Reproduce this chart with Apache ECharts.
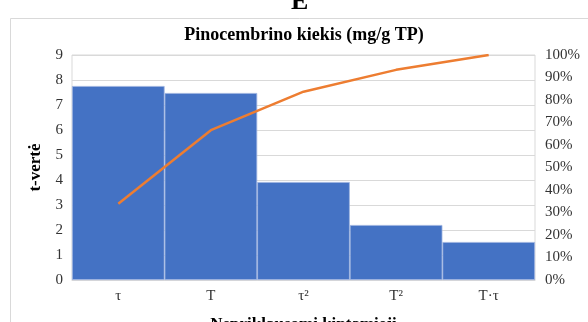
<!DOCTYPE html>
<html>
<head>
<meta charset="utf-8">
<script src="https://cdn.jsdelivr.net/npm/echarts@6/dist/echarts.min.js"></script>
<style>
  html, body { margin: 0; padding: 0; background: #fff; }
  #chart { width: 588px; height: 322px; }
</style>
</head>
<body>
<div id="chart"></div>
<script>
// Pareto chart of standardized effects
const categories = ['τ', 'T', 'τ²', 'T²', 'T·τ'];
const tValues = [7.76, 7.48, 3.92, 2.2, 1.52];
const cumulativeShare = [0.339, 0.666, 0.837, 0.934, 1.0];
const leftTicks = [0, 1, 2, 3, 4, 5, 6, 7, 8, 9];

const serif = '"Liberation Serif", "DejaVu Serif", serif';
const chart = echarts.init(document.getElementById('chart'));

chart.setOption({
  animation: false,
  backgroundColor: '#fff',
  graphic: [
    { type: 'rect', shape: { x: 10.5, y: 18.5, width: 600, height: 320 },
      style: { fill: 'none', stroke: '#d9d9d9', lineWidth: 1 } },
    { type: 'text', left: 291, top: -11,
      style: { text: 'E', font: 'bold 26px ' + serif, fill: '#000' } }
  ],
  title: {
    text: 'Pinocembrino kiekis (mg/g TP)',
    left: 299, top: 21, textAlign: 'center',
    textStyle: { fontFamily: serif, fontWeight: 'bold', fontSize: 18, color: '#000' }
  },
  grid: {
    left: 72, right: 53, top: 55, bottom: 42,
    outerBoundsMode: 'none', containLabel: false,
    show: true, borderColor: '#d9d9d9', borderWidth: 1
  },
  xAxis: {
    type: 'category',
    data: categories,
    name: 'Nepriklausomi kintamieji',
    nameLocation: 'middle',
    nameGap: 36,
    nameTextStyle: { fontFamily: serif, fontWeight: 'bold', fontSize: 17, color: '#000' },
    axisLine: { show: true, lineStyle: { color: '#d9d9d9' } },
    axisTick: { show: false },
    axisLabel: { fontFamily: serif, fontSize: 15, color: '#333', margin: 9 }
  },
  yAxis: [
    {
      type: 'value', min: 0, max: 9, interval: 1,
      name: 't-vertė', nameLocation: 'middle', nameGap: 27, nameRotate: 90,
      nameTextStyle: { fontFamily: serif, fontWeight: 'bold', fontSize: 17, color: '#000' },
      axisLine: { show: false }, axisTick: { show: false },
      axisLabel: { fontFamily: serif, fontSize: 15, color: '#333', margin: 9,
        formatter: v => leftTicks.includes(v) ? String(v) : '' },
      splitLine: { show: true, lineStyle: { color: '#d9d9d9', width: 1 } }
    },
    {
      type: 'value', min: 0, max: 1, interval: 0.1, position: 'right',
      axisLine: { show: false }, axisTick: { show: false },
      axisLabel: { fontFamily: serif, fontSize: 15, color: '#333', margin: 10,
        formatter: v => Math.round(v * 100) + '%' },
      splitLine: { show: false }
    }
  ],
  series: [
    {
      type: 'bar', data: tValues, yAxisIndex: 0,
      barWidth: '100%', barCategoryGap: '0%',
      itemStyle: { color: '#4472C4', borderColor: '#9db3e0', borderWidth: 0.8 }
    },
    {
      type: 'line', data: cumulativeShare, yAxisIndex: 1,
      symbol: 'none',
      lineStyle: { color: '#ED7D31', width: 2.5 }
    }
  ]
});
</script>
</body>
</html>
